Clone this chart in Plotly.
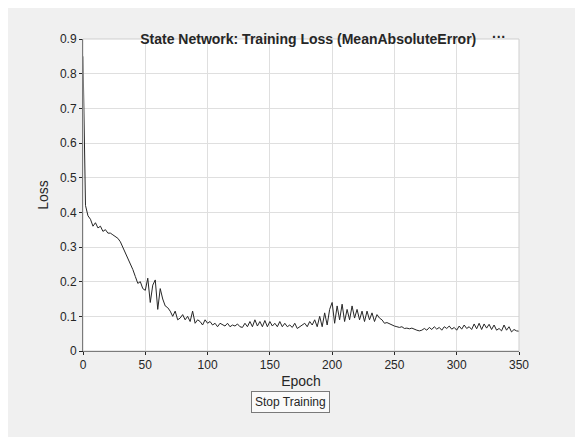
import plotly.graph_objects as go

# Daten: Trainingsverlust je Epoche (Schrittweite 2)
epochs = list(range(0, 351, 2))
loss = [
    0.85, 0.42, 0.39, 0.38, 0.36, 0.37, 0.355, 0.36, 0.345, 0.35,
    0.34, 0.34, 0.335, 0.33, 0.325, 0.315, 0.30, 0.285, 0.27, 0.25,
    0.235, 0.215, 0.195, 0.20, 0.18, 0.175, 0.21, 0.14, 0.19, 0.205,
    0.12, 0.18, 0.15, 0.13, 0.125, 0.115, 0.10, 0.115, 0.09, 0.095,
    0.105, 0.09, 0.10, 0.085, 0.115, 0.08, 0.09, 0.085, 0.075, 0.09,
    0.08, 0.085, 0.075, 0.08, 0.07, 0.08, 0.075, 0.072, 0.08, 0.07,
    0.075, 0.072, 0.078, 0.07, 0.068, 0.08, 0.07, 0.085, 0.07, 0.09,
    0.072, 0.085, 0.07, 0.088, 0.07, 0.085, 0.072, 0.08, 0.07, 0.085,
    0.07, 0.08, 0.07, 0.075, 0.068, 0.08, 0.065, 0.07, 0.075, 0.08,
    0.07, 0.085, 0.075, 0.09, 0.07, 0.10, 0.07, 0.11, 0.075, 0.12,
    0.14, 0.08, 0.13, 0.09, 0.135, 0.085, 0.12, 0.09, 0.13, 0.095,
    0.12, 0.09, 0.115, 0.085, 0.115, 0.09, 0.11, 0.085, 0.105, 0.095,
    0.09, 0.08, 0.082, 0.078, 0.075, 0.072, 0.07, 0.068, 0.07, 0.065,
    0.066, 0.064, 0.066, 0.062, 0.06, 0.058, 0.06, 0.065, 0.06, 0.068,
    0.062, 0.07, 0.063, 0.068, 0.06, 0.07, 0.065, 0.072, 0.063, 0.068,
    0.06, 0.072, 0.063, 0.075, 0.065, 0.07, 0.062, 0.078, 0.064, 0.08,
    0.062, 0.078, 0.066, 0.077, 0.062, 0.075, 0.06, 0.065, 0.058, 0.075,
    0.06, 0.07, 0.055, 0.062, 0.058, 0.057,
]
x_ticks = [0, 50, 100, 150, 200, 250, 300, 350]
y_ticks = [0, 0.1, 0.2, 0.3, 0.4, 0.5, 0.6, 0.7, 0.8, 0.9]

fig = go.Figure()
fig.add_trace(go.Scatter(x=epochs, y=loss, mode="lines",
                         line=dict(color="#262626", width=1)))

axis_style = dict(showline=True, linecolor="#262626", mirror=False,
                  gridcolor="#dfdfdf", zeroline=False, ticks="outside",
                  ticklen=3, tickcolor="#262626",
                  tickfont=dict(size=12, color="#262626"))

fig.update_layout(
    width=583, height=437,
    paper_bgcolor="#f0f0f0", plot_bgcolor="white",
    font=dict(family="Liberation Sans, Arial", color="#262626"),
    showlegend=False,
    margin=dict(l=75, r=72, t=31, b=94),
    title=dict(text="<b>State Network: Training Loss (MeanAbsoluteError)</b>",
               x=0.515, xanchor="center", y=0.94, font=dict(size=14)),
    xaxis=dict(range=[0, 350], tickvals=x_ticks, title=dict(text="Epoch", font=dict(size=14), standoff=4),
               **axis_style),
    yaxis=dict(range=[0, 0.9], tickvals=y_ticks, title=dict(text="Loss", font=dict(size=14), standoff=8),
               **axis_style),
    shapes=[dict(type="rect", xref="paper", yref="paper", x0=0, x1=1, y0=0, y1=1,
                 line=dict(color="#cfcfcf", width=1))],
    annotations=[
        dict(text="<b>···</b>", xref="paper", yref="paper", x=0.975, y=1.04,
             showarrow=False, font=dict(size=14)),
        dict(text="Stop Training", xref="paper", yref="paper", x=0.477, y=-0.20,
             showarrow=False, font=dict(size=12), bgcolor="#fafafa",
             bordercolor="#7a7a7a", borderwidth=1, borderpad=3),
    ],
)

fig.write_html("out.html")
